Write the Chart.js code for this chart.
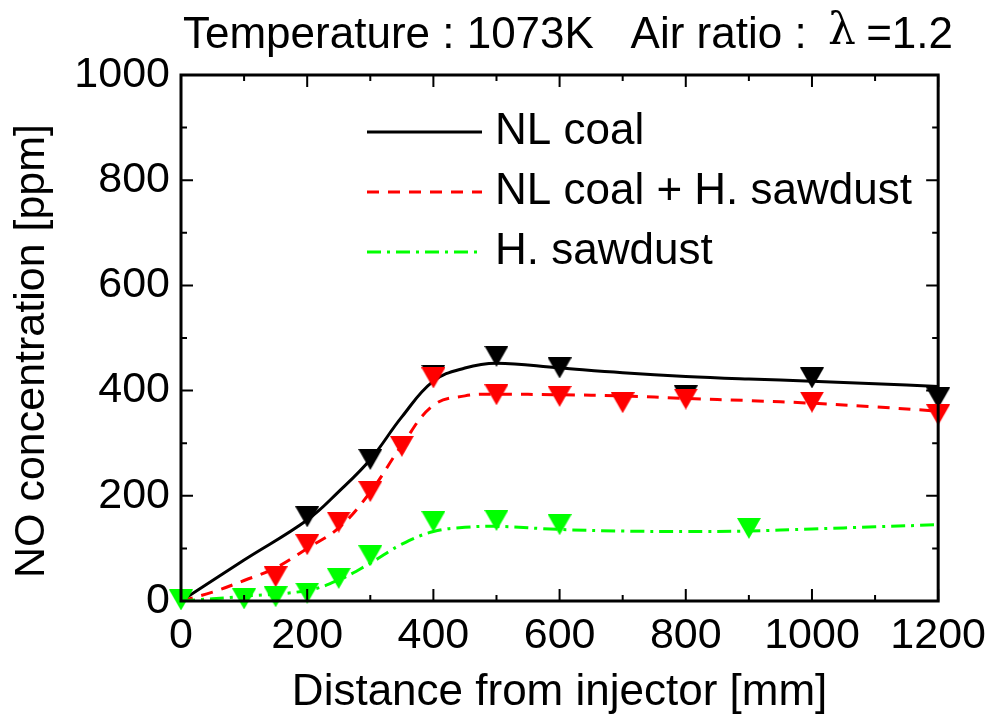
<!DOCTYPE html>
<html>
<head>
<meta charset="utf-8">
<script src="https://cdn.jsdelivr.net/npm/chart.js@4.4.0/dist/chart.umd.min.js"></script>
<style>
  html, body { margin: 0; padding: 0; background: #fff; }
  #wrap { width: 995px; height: 726px; }
</style>
</head>
<body>
<div id="wrap"><canvas id="chart" width="995" height="726"></canvas></div>
<script>
// Tick labels
const xTickValues = [0, 200, 400, 600, 800, 1000, 1200];
const yTickValues = [0, 200, 400, 600, 800, 1000];

// Measured points (distance [mm], NO [ppm])
const coalX = [200, 300, 400, 500, 600, 800, 1000, 1200];
const coalY = [160, 269, 429, 465, 443, 390, 424, 386];

const mixX = [150, 200, 250, 300, 350, 400, 500, 600, 700, 800, 1000, 1200];
const mixY = [46, 107, 150, 208, 294, 424, 392, 389, 377, 384, 378, 354];

const sawX = [0, 100, 150, 200, 250, 300, 400, 500, 600, 900];
const sawY = [2, 4, 8, 15, 43, 86, 151, 153, 145, 138];

// Fitted curves
const coalFitX = [0, 100, 200, 250, 300, 350, 400, 450, 500, 600, 700, 800, 900, 1000, 1100, 1200];
const coalFitY = [0, 78, 154, 208, 269, 350, 418, 443, 452, 443, 434, 427, 422, 418, 413, 408];

const mixFitX = [0, 50, 100, 150, 200, 250, 300, 350, 400, 450, 500, 600, 700, 800, 900, 1000, 1100, 1200];
const mixFitY = [0, 17, 39, 63, 100, 139, 207, 296, 372, 390, 393, 392, 390, 385, 381, 376, 369, 361];

const sawFitX = [0, 100, 200, 250, 300, 350, 400, 450, 500, 600, 700, 800, 900, 1000, 1100, 1200];
const sawFitY = [0, 9, 20, 40, 72, 108, 132, 140, 142, 136, 133, 132, 133, 137, 141, 145];

const seriesNames = ['NL coal', 'NL coal + H. sawdust', 'H. sawdust'];
const seriesColors = ['#000000', '#ff0000', '#00ff00'];
const seriesDash = [[], [12, 9], [14, 6, 3, 6]];

const FONT = "'Liberation Sans', Arial, sans-serif";

function toPoints(xs, ys) {
    return xs.map((x, i) => ({ x: x, y: ys[i] }));
}

// Down-pointing triangle marker, centred on its bounding box
function triangleMarker(color) {
    const c = document.createElement('canvas');
    c.width = 24;
    c.height = 21;
    const g = c.getContext('2d');
    g.fillStyle = color;
    g.beginPath();
    g.moveTo(0, 0);
    g.lineTo(24, 0);
    g.lineTo(12, 21);
    g.closePath();
    g.fill();
    return c;
}

function lineSet(xs, ys, idx, order) {
    return {
        label: seriesNames[idx] + ' fit',
        data: toPoints(xs, ys),
        showLine: true,
        borderColor: seriesColors[idx],
        borderWidth: 3,
        borderDash: seriesDash[idx],
        pointRadius: 0,
        tension: 0.4,
        fill: false,
        order: order
    };
}

function markerSet(xs, ys, idx, order) {
    return {
        label: seriesNames[idx],
        data: toPoints(xs, ys),
        showLine: false,
        pointStyle: triangleMarker(seriesColors[idx]),
        pointRadius: 12,
        clip: false,
        order: order
    };
}

// Frame with inward major/minor ticks on all four sides
const framePlugin = {
    id: 'frame',
    afterDraw(chart) {
        const { ctx, chartArea: a, scales: { x, y } } = chart;
        ctx.save();
        ctx.strokeStyle = '#000';
        ctx.lineWidth = 3;
        ctx.strokeRect(a.left, a.top, a.right - a.left, a.bottom - a.top);
        ctx.lineWidth = 2;
        ctx.beginPath();
        for (let v = 0; v <= 1200; v += 100) {
            const px = x.getPixelForValue(v);
            const len = v % 200 === 0 ? 12 : 6;
            ctx.moveTo(px, a.bottom); ctx.lineTo(px, a.bottom - len);
            ctx.moveTo(px, a.top); ctx.lineTo(px, a.top + len);
        }
        for (let v = 0; v <= 1000; v += 100) {
            const py = y.getPixelForValue(v);
            const len = v % 200 === 0 ? 12 : 6;
            ctx.moveTo(a.left, py); ctx.lineTo(a.left + len, py);
            ctx.moveTo(a.right, py); ctx.lineTo(a.right - len, py);
        }
        ctx.stroke();
        ctx.restore();
    }
};

// Legend inside plot, the header line and the y axis title
const labelPlugin = {
    id: 'labels',
    afterDraw(chart) {
        const ctx = chart.ctx;
        ctx.save();
        ctx.textBaseline = 'middle';
        ctx.textAlign = 'left';
        ctx.font = '44px ' + FONT;
        ctx.fillStyle = '#000';
        const rows = [132, 192, 252];
        seriesNames.forEach((name, i) => {
            ctx.strokeStyle = seriesColors[i];
            ctx.lineWidth = 3;
            ctx.setLineDash(seriesDash[i]);
            ctx.beginPath();
            ctx.moveTo(367, rows[i]);
            ctx.lineTo(482, rows[i]);
            ctx.stroke();
            ctx.setLineDash([]);
            ctx.fillText(name, 495, rows[i]);
        });

        ctx.font = '44px ' + FONT;
        ctx.fillText('Temperature : 1073K   Air ratio :', 183, 36);
        ctx.font = '44px "DejaVu Serif", serif';
        ctx.fillText('\u03bb', 828, 33);
        ctx.font = '44px ' + FONT;
        ctx.textAlign = 'right';
        ctx.fillText('=1.2', 953, 36);

        ctx.textAlign = 'center';
        ctx.font = '43px ' + FONT;
        ctx.translate(32, 351);
        ctx.rotate(-Math.PI / 2);
        ctx.fillText('NO concentration [ppm]', 0, 0);
        ctx.restore();
    }
};

const ctx = document.getElementById('chart').getContext('2d');
new Chart(ctx, {
    type: 'scatter',
    data: {
        datasets: [
            markerSet(sawX, sawY, 2, 0),
            markerSet(mixX, mixY, 1, 1),
            markerSet(coalX, coalY, 0, 2),
            lineSet(sawFitX, sawFitY, 2, 3),
            lineSet(mixFitX, mixFitY, 1, 4),
            lineSet(coalFitX, coalFitY, 0, 5)
        ]
    },
    options: {
        responsive: false,
        animation: false,
        devicePixelRatio: 1,
        layout: { padding: { top: 75, right: 53, left: 0, bottom: 0 } },
        plugins: {
            legend: { display: false },
            title: { display: false },
            tooltip: { enabled: false }
        },
        scales: {
            x: {
                type: 'linear',
                min: 0,
                max: 1200,
                afterBuildTicks: s => { s.ticks = xTickValues.map(v => ({ value: v })); },
                afterFit: s => { s.height = 125; },
                ticks: {
                    autoSkip: false, maxRotation: 0, padding: 9, color: '#000',
                    font: { family: FONT, size: 43 },
                    callback: v => String(v)
                },
                grid: { display: false, drawTicks: false },
                border: { display: false },
                title: {
                    display: true,
                    text: 'Distance from injector [mm]',
                    color: '#000',
                    font: { family: FONT, size: 44 },
                    padding: { top: 0, bottom: 7 }
                }
            },
            y: {
                type: 'linear',
                min: 0,
                max: 1000,
                afterBuildTicks: s => { s.ticks = yTickValues.map(v => ({ value: v })); },
                afterFit: s => { s.width = 181; },
                ticks: {
                    padding: 11, color: '#000',
                    font: { family: FONT, size: 43 },
                    callback: v => String(v)
                },
                grid: { display: false, drawTicks: false },
                border: { display: false }
            }
        }
    },
    plugins: [framePlugin, labelPlugin]
});
</script>
</body>
</html>
